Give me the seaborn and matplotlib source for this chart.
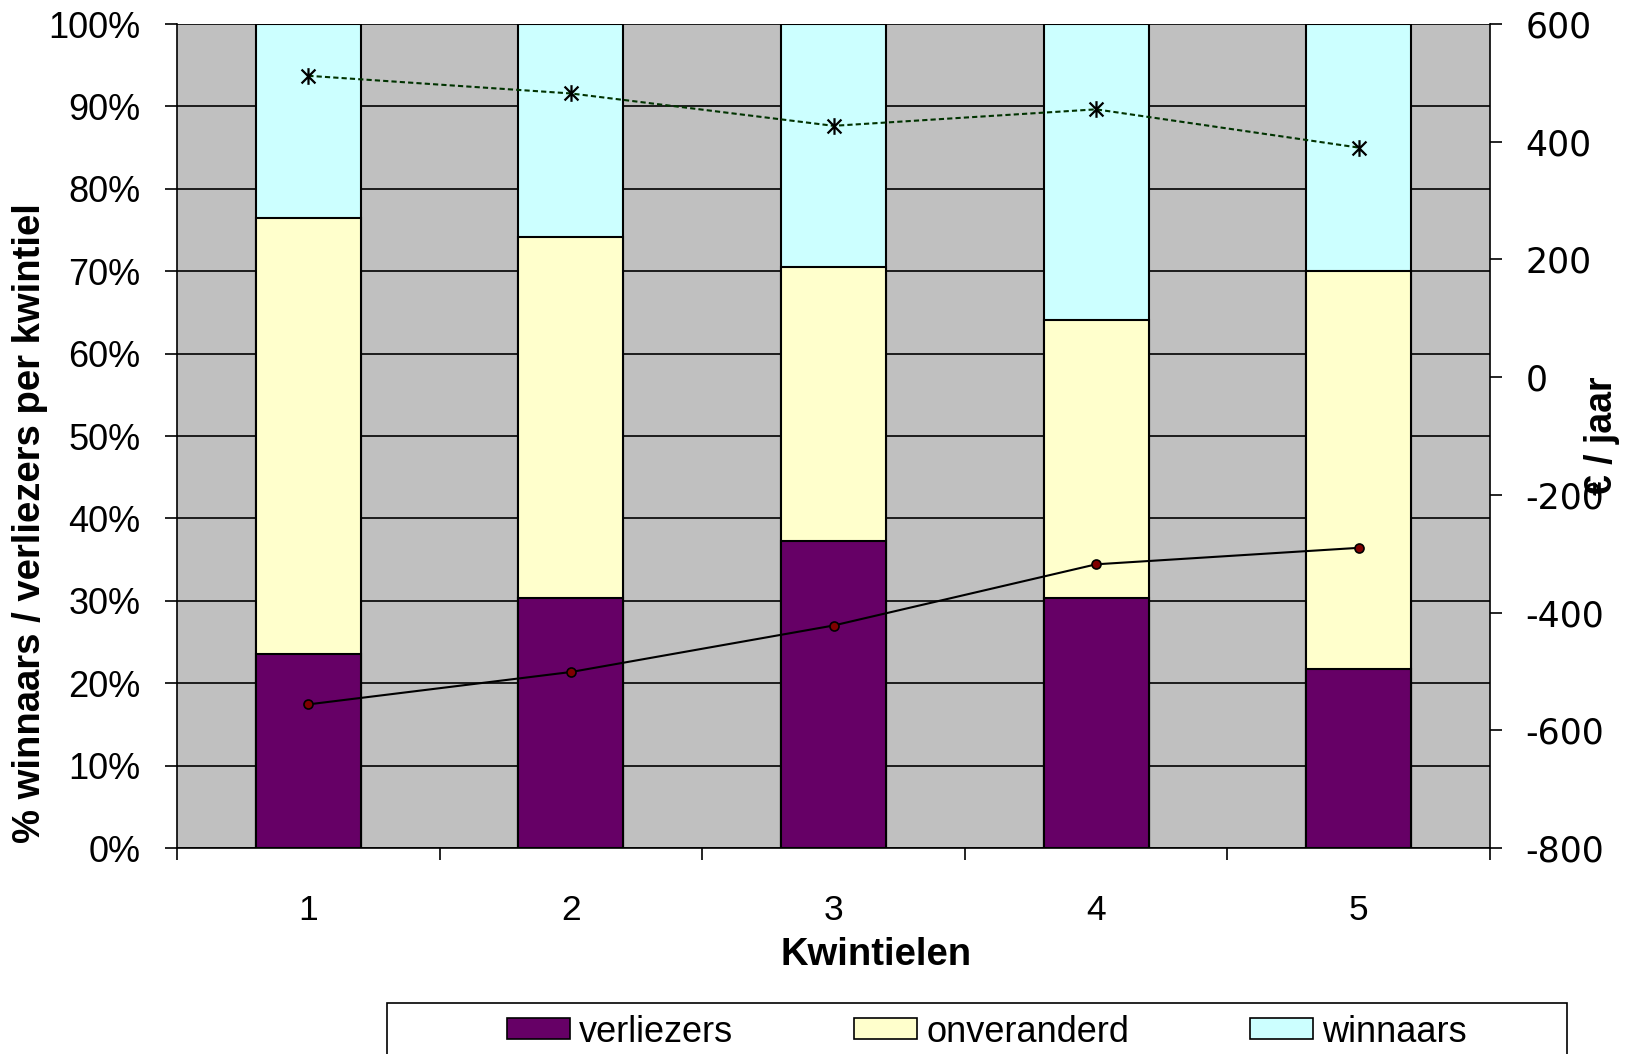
import matplotlib
matplotlib.use("Agg")
import matplotlib.pyplot as plt
from matplotlib.patches import Patch, Rectangle
from matplotlib.path import Path
from matplotlib.ticker import FixedLocator
import numpy as np
import pandas as pd
import seaborn as sns

# ---- data ----
kwintielen = ["1", "2", "3", "4", "5"]
verliezers = [23.6, 30.3, 37.3, 30.4, 21.7]
onveranderd = [52.9, 43.8, 33.2, 33.7, 48.3]
winnaars = [23.5, 25.9, 29.5, 35.9, 30.0]
euro_winnaars = [512, 482, 427, 455, 390]
euro_verliezers = [-556, -501, -422, -318, -290]
legend_labels = ["verliezers", "onveranderd", "winnaars"]
left_ticks = list(range(0, 101, 10))
right_ticks = list(range(-800, 601, 200))

colors = {"verliezers": "#660066", "onveranderd": "#FFFFCC", "winnaars": "#CCFFFF"}

plt.rcParams["font.family"] = ["Liberation Sans", "DejaVu Sans"]

df = pd.DataFrame({"kwintiel": kwintielen, "verliezers": verliezers,
                   "onveranderd": onveranderd, "winnaars": winnaars})
df["cum_v"] = df["verliezers"]
df["cum_o"] = df["verliezers"] + df["onveranderd"]
df["cum_w"] = df["cum_o"] + df["winnaars"]

W, H = 1630, 1054
fig = plt.figure(figsize=(W / 100, H / 100), dpi=100)
ax = fig.add_axes([177 / W, 1 - 848 / H, 1313 / W, 824 / H])
ax.set_facecolor("#C0C0C0")
ax.set_axisbelow(True)

for col, name in [("cum_w", "winnaars"), ("cum_o", "onveranderd"), ("cum_v", "verliezers")]:
    sns.barplot(data=df, x="kwintiel", y=col, order=kwintielen, color=colors[name],
                saturation=1, width=0.4, edgecolor="black", linewidth=1.5,
                errorbar=None, ax=ax)

ax.set_xlim(-0.5, 4.5)
ax.set_ylim(0, 100)
ax.set_yticks(left_ticks)
ax.set_yticklabels([f"{t}%" for t in left_ticks])
ax.yaxis.grid(True, color="black", linewidth=1.2)
ax.xaxis.grid(False)
ax.set_xticks(range(len(kwintielen)))
ax.set_xticklabels(kwintielen)
ax.xaxis.set_minor_locator(FixedLocator(np.arange(-0.5, 5, 1)))
ax.tick_params(axis="x", which="major", length=0, pad=33, labelsize=25.5)
ax.tick_params(axis="x", which="minor", length=8.5, width=1.2, color="black", direction="out")
ax.tick_params(axis="y", length=8.5, width=1.2, pad=18, labelsize=26, direction="out")
for s in ["top", "right"]:
    ax.spines[s].set_visible(False)
for s in ["left", "bottom"]:
    ax.spines[s].set_color("black")
    ax.spines[s].set_linewidth(1.2)

ax.set_xlabel("Kwintielen", fontsize=27.5, fontweight="bold")
ax.xaxis.label.set_va("center")
ax.xaxis.set_label_coords((876 - 177) / 1313, (848 - 955) / 824)
ax.set_ylabel("% winnaars / verliezers per kwintiel", fontsize=27.5, fontweight="bold")
ax.yaxis.label.set_va("center")
ax.yaxis.set_label_coords((30 - 177) / 1313, (848 - 523) / 824)

# ---- right axis lines ----
star = Path([(-1, -1), (1, 1), (-1, 1), (1, -1), (0, -1.2), (0, 1.2)],
            [Path.MOVETO, Path.LINETO, Path.MOVETO, Path.LINETO, Path.MOVETO, Path.LINETO])
ax2 = ax.twinx()
x_pos = np.arange(len(kwintielen))
sns.lineplot(x=x_pos, y=euro_winnaars, ax=ax2, color="#003300", linewidth=1.5,
             linestyle=(0, (2.5, 1.5)), marker=star, markersize=12,
             markerfacecolor="none", markeredgecolor="black", markeredgewidth=1.6,
             legend=False)
sns.lineplot(x=x_pos, y=euro_verliezers, ax=ax2, color="black", linewidth=1.5,
             marker="o", markersize=6.5, markerfacecolor="#800000",
             markeredgecolor="black", markeredgewidth=1.2, legend=False)
ax2.set_xlim(-0.5, 4.5)
ax2.set_ylim(-800, 600)
ax2.set_yticks(right_ticks)
ax2.set_yticklabels([str(t) for t in right_ticks], fontfamily="DejaVu Sans", fontsize=25)
ax2.tick_params(axis="y", length=8.5, width=1.2, pad=17, direction="out")
for s in ["top", "left", "bottom"]:
    ax2.spines[s].set_visible(False)
ax2.spines["right"].set_color("black")
ax2.spines["right"].set_linewidth(1.2)
ax2.set_ylabel("€ / jaar", fontsize=27, fontweight="bold", rotation=90)
ax2.yaxis.label.set_va("center")
ax2.yaxis.label.set_ha("center")
ax2.yaxis.set_label_coords((1602 - 177) / 1313, 0.5)

# ---- legend ----
box = Rectangle((387 / W, -0.03), 1180 / W, (H - 1003) / H + 0.03,
                transform=fig.transFigure, facecolor="white", edgecolor="black",
                linewidth=1.2, zorder=1)
fig.patches.append(box)
handles = [Patch(facecolor=colors[n], edgecolor="black", linewidth=1.2, label=n)
           for n in legend_labels]
fig.legend(handles=handles, loc="center", bbox_to_anchor=(987 / W, 1 - 1032 / H),
           ncol=3, frameon=False, fontsize=26, handlelength=1.75, handleheight=0.5,
           handletextpad=0.25, columnspacing=3.35)

fig.savefig("out.png", dpi=100)
